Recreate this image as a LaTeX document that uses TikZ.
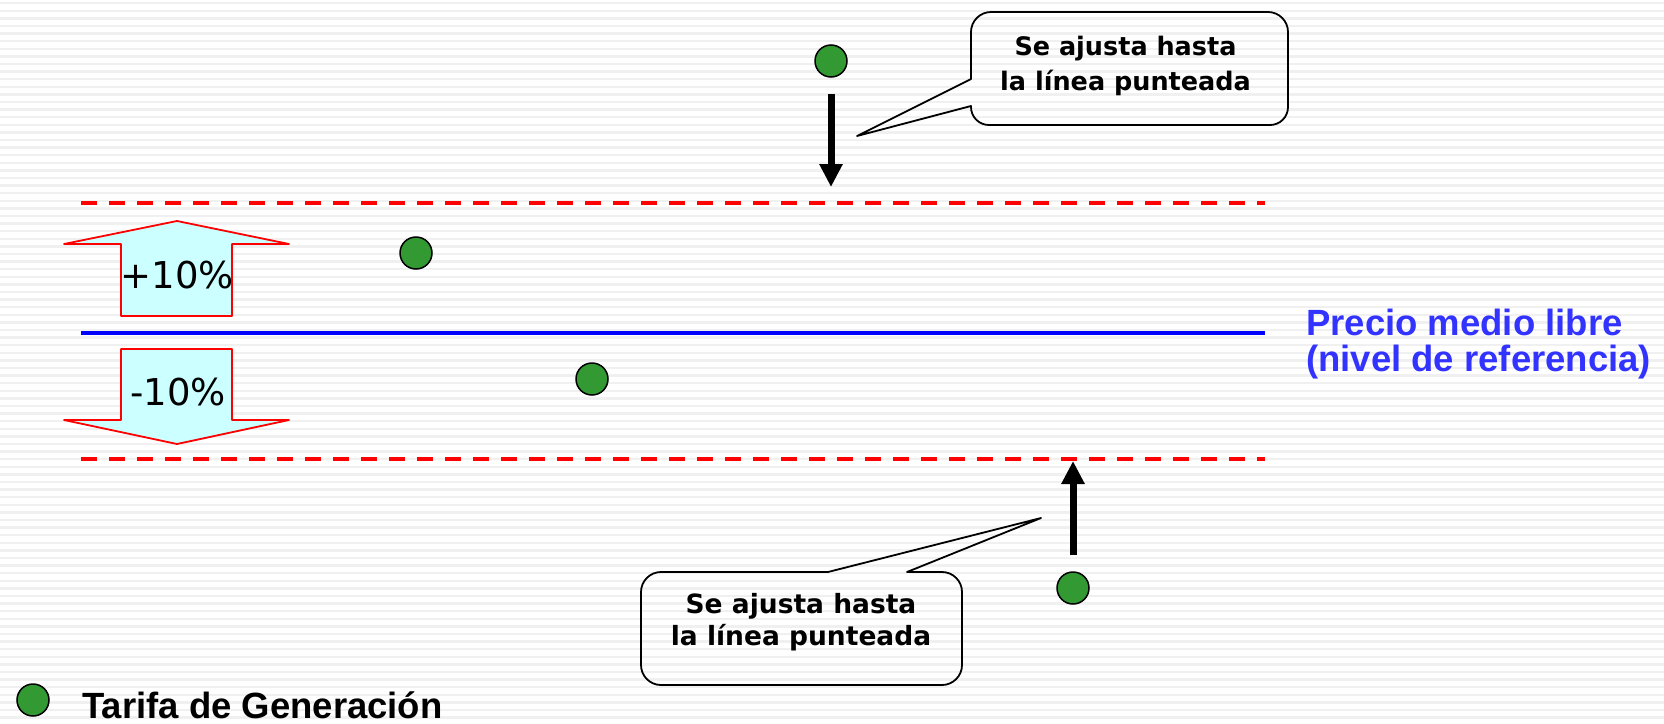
\documentclass[tikz,border=0pt]{standalone}
\usepackage{fontspec}
\newfontfamily\notefont{DejaVu Sans}
\newfontfamily\capfont{Liberation Sans}
\usetikzlibrary{arrows.meta}
\definecolor{dotgreen}{RGB}{51,153,51}
\definecolor{bandcyan}{RGB}{204,255,255}
\definecolor{refblue}{RGB}{51,51,255}

\begin{document}
\begin{tikzpicture}[x=1pt, y=-1pt,
    % Background and guide lines
    stripe/.style={fill=black!6},
    level/.style={red, line width=4pt, dash pattern=on 16pt off 12pt},
    refline/.style={blue, line width=4pt},
    % Band arrows on the left
    band/.style={draw=red, fill=bandcyan, line width=1.8pt, line join=round},
    pct/.style={font=\notefont\fontsize{37}{44}\selectfont, inner sep=0pt},
    % Tariff dots and push arrows
    tarifa/.style={circle, draw=black, fill=dotgreen, line width=1.5pt,
                   minimum size=32pt, inner sep=0pt},
    push/.style={-{Triangle[width=22pt,length=23pt]}, line width=7pt},
    % Callouts and captions
    balloon/.style={draw=black, line width=1.8pt, line join=round},
    note/.style={font=\notefont\bfseries\fontsize{25.5}{35}\selectfont,
                 align=center, inner sep=0pt},
    caption/.style={font=\capfont\bfseries\fontsize{36.5}{36}\selectfont,
                    inner sep=0pt}
]
\useasboundingbox (0,0) rectangle (1664,723);

% Striped background
\fill[white] (0,0) rectangle (1664,723);
\foreach \k in {0,...,94}
    \fill[stripe] (0,{1.9+7.6*\k}) rectangle (1664,{4.4+7.6*\k});

% Limits and reference level
\coordinate (hiL) at (81,203);
\coordinate (hiR) at (1265,203);
\coordinate (refL) at (81,333);
\coordinate (refR) at (1265,333);
\coordinate (loL) at (81,459);
\coordinate (loR) at (1265,459);
\draw[level] (hiL) -- (hiR);
\draw[refline] (refL) -- (refR);
\draw[level] (loL) -- (loR);

\node[caption, text=refblue, align=left, anchor=west] (ref) at (1306,344)
    {Precio medio libre\\(nivel de referencia)};

% Band arrows
\draw[band] (177,221) -- (289,244) -- (232,244) -- (232,316) -- (121,316)
    -- (121,244) -- (64,244) -- cycle;
\node[pct] (up) at (177.5,275) {+10\%};
\draw[band] (121,349) -- (232,349) -- (232,420) -- (289,420) -- (177,444)
    -- (64,420) -- (121,420) -- cycle;
\node[pct] (down) at (178,392) {-10\%};

% Tariffs
\node[tarifa] (g1) at (831,61) {};
\node[tarifa] (g2) at (416,253) {};
\node[tarifa] (g3) at (592,379) {};
\node[tarifa] (g4) at (1073,588) {};

% Adjustment arrows
\coordinate (hiStop) at (831,187);
\coordinate (loStop) at (1073,461);
\draw[push] ([yshift=-16pt]g1.south) -- (hiStop);
\draw[push] ([yshift=16pt]g4.north) -- (loStop);

% Upper callout
\node[note] (tip1) at (1125.5,65.8) {Se ajusta hasta\\la línea punteada};
\draw[balloon] (971,79) -- (971,32) .. controls (971,21) and (980,12) .. (991,12)
    -- (1268,12) .. controls (1279,12) and (1288,21) .. (1288,32)
    -- (1288,107) .. controls (1288,117) and (1280,125) .. (1270,125)
    -- (989,125) .. controls (979,125) and (971,117) .. (971,107)
    -- (971,106) -- (857,136) -- cycle;

% Lower callout
\node[note, font=\notefont\bfseries\fontsize{26.5}{32}\selectfont] (tip2)
    at (801,622) {Se ajusta hasta\\la línea punteada};
\draw[balloon] (907,572) -- (942,572) .. controls (953,572) and (962,581) .. (962,592)
    -- (962,665) .. controls (962,676) and (953,685) .. (942,685)
    -- (661,685) .. controls (650,685) and (641,676) .. (641,665)
    -- (641,592) .. controls (641,581) and (650,572) .. (661,572)
    -- (828,572) -- (1041,518) -- cycle;

% Legend
\node[tarifa] (gl) at (33,700) {};
\node[caption, anchor=base west] (gllabel) at (82,718.5) {Tarifa de Generación};

\end{tikzpicture}
\end{document}
